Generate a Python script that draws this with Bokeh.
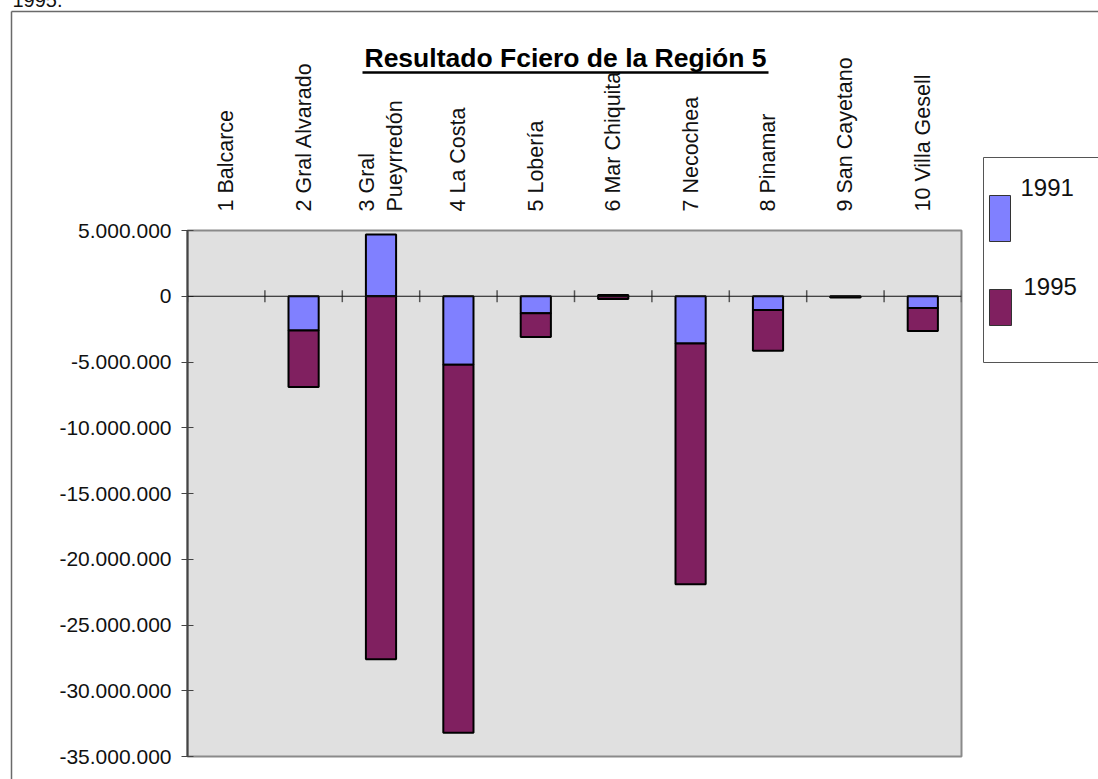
import math
from bokeh.plotting import figure
from bokeh.models import FixedTicker, Span, Range1d
from bokeh.core.properties import value
from bokeh.embed import file_html
from bokeh.resources import INLINE

NaN = float("nan")

categories = ["1 Balcarce", "2 Gral Alvarado", "3 Gral\nPueyrredón", "4 La Costa",
              "5 Lobería", "6 Mar Chiquita", "7 Necochea", "8 Pinamar",
              "9 San Cayetano", "10 Villa Gesell"]
series_names = ["1991", "1995"]
values_1991 = [NaN, -2600000, 4700000, -5200000, -1300000, 100000, -3600000, -1050000, -40000, -900000]
values_1995 = [NaN, -4300000, -27600000, -28000000, -1800000, -200000, -18300000, -3100000, -60000, -1750000]
y_ticks = [5000000, 0, -5000000, -10000000, -15000000, -20000000, -25000000, -30000000, -35000000]
title_text = "Resultado Fciero de la Región 5"
caption_text = "1995."

colors = ["#8080ff", "#802060"]
FONT = "Liberation Sans"

W, H = 1098, 779
FL, FR, FT, FB = 187, 961, 230, 756  # frame in canvas px
n = len(categories)
XMIN, XMAX = 0, n
YMIN, YMAX = -35000000, 5000000

def fmt(v):
    s = f"{abs(int(v)):,}".replace(",", ".")
    return ("-" if v < 0 else "") + s

p = figure(width=W, height=H, output_backend="svg", toolbar_location=None,
           x_range=Range1d(XMIN, XMAX), y_range=Range1d(YMIN, YMAX),
           x_axis_location="above",
           min_border_left=FL, min_border_right=W - FR, min_border_top=FT, min_border_bottom=H - FB)
p.background_fill_color = "#e0e0e0"
p.border_fill_color = "white"
p.outline_line_color = "#8a8a8a"
p.outline_line_width = 2
p.xgrid.visible = False
p.ygrid.visible = False

# stacked bars (Excel style: positives and negatives stacked separately)
xs = [i + 0.5 for i in range(n)]
pos = [0.0] * n
neg = [0.0] * n
for vals, col in zip([values_1991, values_1995], colors):
    bottoms, tops = [], []
    for i, v in enumerate(vals):
        if v != v:
            bottoms.append(NaN); tops.append(NaN); continue
        if v >= 0:
            bottoms.append(pos[i]); tops.append(pos[i] + v); pos[i] += v
        else:
            tops.append(neg[i]); bottoms.append(neg[i] + v); neg[i] += v
    p.vbar(x=xs, bottom=bottoms, top=tops, width=0.39, fill_color=col,
           line_color="black", line_width=2)

# zero line with category boundary ticks
p.add_layout(Span(location=0, dimension="width", line_color="#111111", line_width=1))
bounds = list(range(n + 1))
p.segment(x0=bounds, y0=[-450000] * len(bounds), x1=bounds, y1=[450000] * len(bounds),
          line_color="#555555", line_width=1.5)

# y axis
ya = p.yaxis[0]
ya.ticker = FixedTicker(ticks=y_ticks)
ya.major_label_overrides = {t: fmt(t) for t in y_ticks}
ya.major_label_text_font = FONT
ya.major_label_text_font_size = "21px"
ya.major_label_text_color = "#111111"
ya.major_tick_out = 6
ya.major_tick_in = 6
ya.minor_tick_line_color = None
ya.axis_line_color = "#444444"
ya.axis_line_width = 2
ya.major_tick_line_color = "#444444"
ya.major_label_standoff = 10

# top category axis
xa = p.xaxis[0]
xa.ticker = FixedTicker(ticks=xs)
xa.major_label_overrides = {x: c for x, c in zip(xs, categories)}
xa.major_label_orientation = math.pi / 2
xa.major_label_text_font = FONT
xa.major_label_text_font_size = "21.5px"
xa.major_label_text_color = "#111111"
xa.axis_line_color = None
xa.major_tick_line_color = None
xa.minor_tick_line_color = None
xa.major_label_standoff = 13

# ---- decorations outside the frame (overlay level, anchored inside the frame) ----
def dx(cx):
    return XMIN + (cx - FL) / (FR - FL) * (XMAX - XMIN)

def dy(cy):
    return YMIN + (FB - cy) / (FB - FT) * (YMAX - YMIN)

AX, AY = 0.5, 0.0
ACX = FL + (AX - XMIN) / (XMAX - XMIN) * (FR - FL)
ACY = FB - (AY - YMIN) / (YMAX - YMIN) * (FB - FT)

def txt(cx, cy, s, size, bold=False, align="left", color="#111111"):
    p.text(x=[AX], y=[AY], text=[s], x_offset=cx - ACX, y_offset=cy - ACY,
           text_font=value(FONT), text_font_size=value(size),
           text_font_style="bold" if bold else "normal",
           text_align=align, text_baseline="middle", text_color=color, level="overlay")

def lines(paths, color, width):
    mx, my = [], []
    for path in paths:
        mx.append([dx(c[0]) for c in path] + [NaN, AX])
        my.append([dy(c[1]) for c in path] + [NaN, AY])
    p.multi_line(xs=mx, ys=my, line_color=color, line_width=width, level="overlay")

def boxes(rects, fills, line_color):
    px, py = [], []
    for (l, r, t, b) in rects:
        px.append([dx(l), dx(r), dx(r), dx(l), NaN, AX])
        py.append([dy(t), dy(t), dy(b), dy(b), NaN, AY])
    p.patches(xs=px, ys=py, fill_color=fills, line_color=line_color, line_width=1, level="overlay")

# outer frame of the embedded chart
lines([[(11, H + 5), (11, 11)], [(11, 11), (W + 5, 11)]], "#6a6a6a", 1.5)
# caption cut at the top
txt(12, -1, caption_text, "20px")
# title with underline
txt(565, 57.5, title_text, "26.5px", bold=True, align="center", color="black")
lines([[(362, 72), (768, 72)]], "black", 2.5)
# legend (open to the right, cut by the picture edge)
lines([[(W + 5, 157), (983, 157)], [(983, 157), (983, 362)], [(983, 362), (W + 5, 362)]], "#555555", 1)
boxes([(989, 1010, 195, 241), (989, 1011, 289, 325)], colors, "#333333")
txt(1020, 187, series_names[0], "24px")
txt(1023, 286, series_names[1], "24px")

open("out.html", "w").write(file_html(p, INLINE))
